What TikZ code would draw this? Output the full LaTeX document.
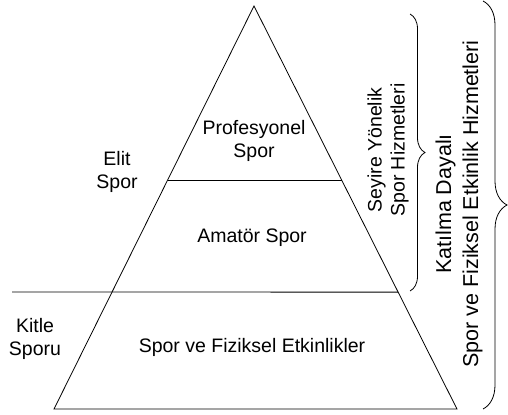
\documentclass[tikz,border=0pt]{standalone}
\usepackage{fontspec}
\setmainfont{Liberation Sans}
\usetikzlibrary{positioning, calc, decorations.pathreplacing}

\begin{document}
\begin{tikzpicture}[x=1bp, y=-1bp, line width=0.8bp,
	lbl/.style={align=center, inner sep=0pt, font=\fontsize{19.5bp}{23bp}\selectfont},
	biglbl/.style={lbl, font=\fontsize{21.5bp}{27bp}\selectfont},
	brc/.style={decorate, decoration={brace, amplitude=#1}}]
	\useasboundingbox (0,0) rectangle (508,414);

	% pyramid
	\coordinate (top) at (254,6);
	\coordinate (bl) at (54,409);
	\coordinate (br) at (457,409);
	\coordinate (s1l) at ($(top)!0.432!(bl)$);
	\coordinate (s1r) at ($(top)!0.432!(br)$);
	\coordinate (s2l) at (12,292);
	\coordinate (s2r) at ($(top)!0.71!(br)$);

	\draw (top) -- (bl) -- (br) -- cycle;
	\draw (s1l) -- (s1r);
	\draw (s2l) -- (s2r);

	\node[lbl] (pro) at (254,141) {Profesyonel\\Spor};
	\node[lbl] (ama) at (252,238) {Amatör Spor};
	\node[lbl] (fiz) at (252,347) {Spor ve Fiziksel Etkinlikler};
	\node[lbl] (elit) at (117,172) {Elit\\Spor};
	\node[lbl] (kitle) at (35,339) {Kitle\\Sporu};

	% braces
	\coordinate (b1t) at (410,14);
	\coordinate (b1b) at (410,291);
	\coordinate (b2t) at (483,1);
	\coordinate (b2b) at (483,409);
	\draw[brc=15bp] (b1t) -- (b1b);
	\draw[brc=24bp] (b2t) -- (b2b);

	\node[lbl, rotate=90] (seyir) at (388,150) {Seyire Yönelik\\Spor Hizmetleri};
	\node[biglbl, rotate=90] (katil) at (459,204) {Katılma Dayalı\\Spor ve Fiziksel Etkinlik Hizmetleri};
\end{tikzpicture}
\end{document}
